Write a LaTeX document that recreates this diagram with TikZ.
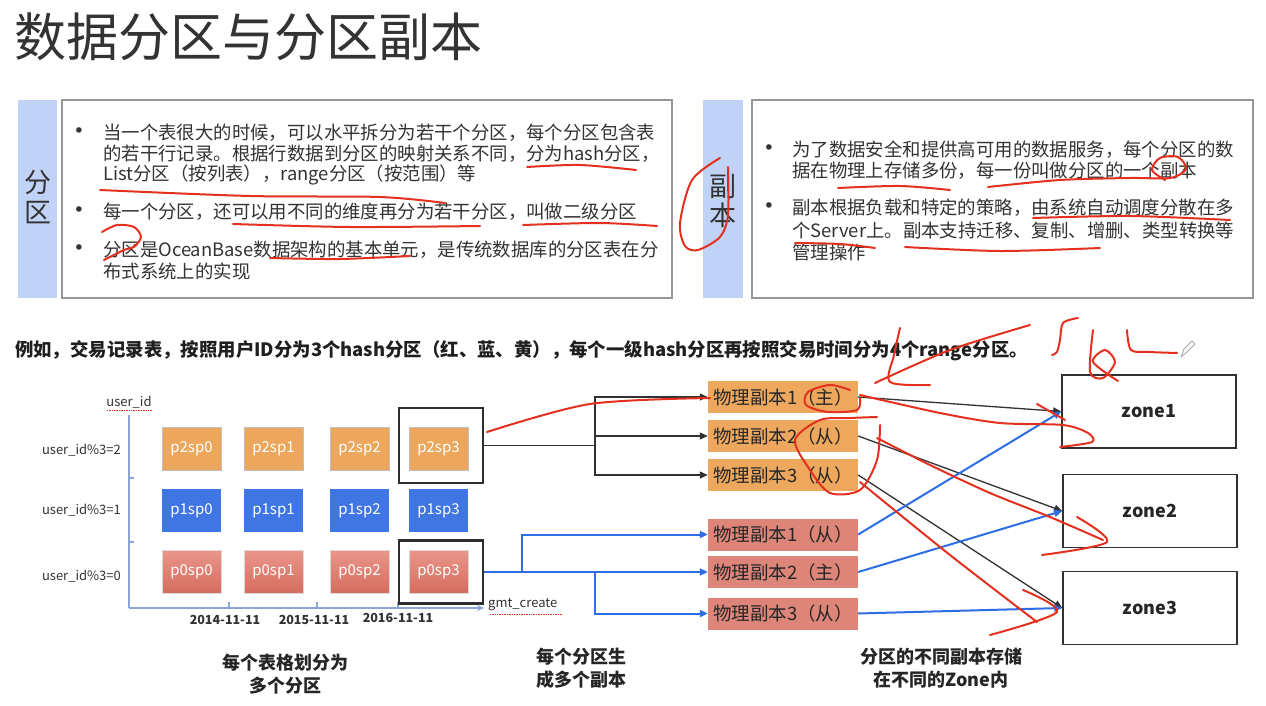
\documentclass[tikz,border=0pt]{standalone}
\usepackage{fontspec}
\setmainfont{Noto Sans CJK SC}
\newfontfamily\dejavu{DejaVu Sans}
\usetikzlibrary{arrows.meta,calc}
\definecolor{txt}{RGB}{51,51,51}
\definecolor{barblue}{RGB}{192,210,246}
\definecolor{boxgray}{RGB}{150,150,150}
\definecolor{cellorange}{RGB}{236,167,92}
\definecolor{cellblue}{RGB}{64,117,228}
\definecolor{celltop}{RGB}{234,150,138}
\definecolor{cellbot}{RGB}{214,108,94}
\definecolor{reporange}{RGB}{237,168,94}
\definecolor{repred}{RGB}{222,133,121}
\definecolor{axisblue}{RGB}{140,165,215}
\definecolor{linkblue}{RGB}{45,110,230}
\definecolor{linkdark}{RGB}{50,50,50}
\definecolor{pen}{RGB}{228,48,30}
\begin{document}
\begin{tikzpicture}[x=1pt,y=-1pt,
  ln/.style={anchor=west, inner sep=0pt, text=txt, font=\fontsize{18.4}{22}\selectfont},
  bul/.style={anchor=center, inner sep=0pt, text=txt, font=\dejavu\fontsize{19}{20}\selectfont},
  bar/.style={fill=barblue, draw=none},
  frame/.style={draw=boxgray, line width=1.1pt},
  barlbl/.style={inner sep=0pt, text=txt, font=\fontsize{27}{30}\selectfont},
  cell/.style={minimum width=59pt, minimum height=43pt, inner sep=0pt, text=white, font=\fontsize{15}{17}\selectfont},
  hl/.style={draw=linkdark!90!black, line width=2.2pt, minimum width=84pt, inner sep=0pt},
  rep/.style={minimum width=150pt, minimum height=32pt, inner sep=0pt, text=black!85, font=\fontsize{18.5}{20}\selectfont},
  zone/.style={draw=linkdark, line width=1.6pt, minimum width=174pt, minimum height=73pt, inner sep=0pt, text=black!85, font=\bfseries\fontsize{18}{20}\selectfont},
  axl/.style={inner sep=0pt, text=txt, font=\fontsize{13}{15}\selectfont},
  datel/.style={inner sep=0pt, text=txt, font=\bfseries\fontsize{12.5}{14}\selectfont},
  caption/.style={inner sep=0pt, align=center, text=black!85, font=\bfseries\fontsize{18}{23}\selectfont},
  darkarrow/.style={draw=linkdark, line width=1.3pt, -{Triangle[length=8pt,width=7pt]}},
  darkline/.style={draw=linkdark, line width=1.3pt},
  bluearrow/.style={draw=linkblue, line width=2pt, -{Triangle[length=8pt,width=7pt]}},
  blueline/.style={draw=linkblue, line width=2pt},
  axisline/.style={draw=axisblue, line width=1.8pt},
  ink/.style={draw=pen, line width=2pt, line cap=round, line join=round},
]
\useasboundingbox (0,0) rectangle (1266,706);
\fill[white] (0,0) rectangle (1266,706);

% title
\node[anchor=west, inner sep=0pt, text=txt, font=\fontsize{52}{56}\selectfont] (title) at (14,37) {数据分区与分区副本};

% left panel
\fill[bar] (18,100) rectangle (57,298);
\node[barlbl] (lb1) at (37.5,183) {分};
\node[barlbl] (lb2) at (37.5,213) {区};
\draw[frame] (62,100) rectangle (672,298);
\node[bul] (lbu1) at (79,133) {•};
\node[ln] (l1) at (103,133) {当一个表很大的时候，可以水平拆分为若干个分区，每个分区包含表};
\node[ln] (l2) at (103,154) {的若干行记录。根据行数据到分区的映射关系不同，分为hash分区，};
\node[ln] (l3) at (103,175) {List分区（按列表），range分区（按范围）等};
\node[bul] (lbu2) at (79,212) {•};
\node[ln] (l4) at (103,212) {每一个分区，还可以用不同的维度再分为若干分区，叫做二级分区};
\node[bul] (lbu3) at (79,250) {•};
\node[ln] (l5) at (103,250) {分区是OceanBase数据架构的基本单元，是传统数据库的分区表在分};
\node[ln] (l6) at (103,271) {布式系统上的实现};

% right panel
\fill[bar] (703,100) rectangle (743,298);
\node[barlbl] (rb1) at (723,187) {副};
\node[barlbl] (rb2) at (723,215) {本};
\draw[frame] (752,100) rectangle (1253,298);
\node[bul] (rbu1) at (769,150) {•};
\node[ln] (r1l) at (792,150) {为了数据安全和提供高可用的数据服务，每个分区的数};
\node[ln] (r2l) at (792,171) {据在物理上存储多份，每一份叫做分区的一个副本};
\node[bul] (rbu2) at (769,208) {•};
\node[ln] (r3l) at (792,208) {副本根据负载和特定的策略，由系统自动调度分散在多};
\node[ln] (r4l) at (792,230) {个Server上。副本支持迁移、复制、增删、类型转换等};
\node[ln] (r5l) at (792,252) {管理操作};

% example sentence
\node[anchor=west, inner sep=0pt, text=black!88, font=\bfseries\fontsize{18.4}{22}\selectfont] (ex) at (15,351) {例如，交易记录表，按照用户ID分为3个hash分区（红、蓝、黄），每个一级hash分区再按照交易时间分为4个range分区。};

% axes
\coordinate (ytop) at (129,415);
\coordinate (orig) at (129,608);
\coordinate (xend) at (484,608);
\draw[axisline] (ytop) -- (orig);
\draw[axisline, -{Stealth[length=7pt,width=6pt]}] (orig) -- (xend);
\draw[axisline, line width=1.2pt] (129,478) -- (134,478) (129,542) -- (134,542);
\draw[axisline, line width=1.2pt] (229,608) -- (229,602) (317,608) -- (317,602) (398,608) -- (398,602);
\node[axl] (uid) at (129,402) {user\_id};
\node[axl, anchor=east] (y2) at (121,450) {user\_id\%3=2};
\node[axl, anchor=east] (y1) at (121,510) {user\_id\%3=1};
\node[axl, anchor=east] (y0) at (121,576) {user\_id\%3=0};
\node[datel] (d1) at (225,620) {2014-11-11};
\node[datel] (d2) at (314,620) {2015-11-11};
\node[datel] (d3) at (398,618) {2016-11-11};
\node[axl, anchor=west] (gmt) at (488,605) {gmt\_create};
\draw[pen, line width=0.7pt, densely dotted] (107,410) -- (152,410);
\draw[pen, line width=0.7pt, densely dotted] (490,614) -- (563,614);

% cells
\foreach \c/\x in {0/191.5,1/273.5,2/359.5,3/438.5}{
  \node[cell, fill=cellorange, draw=black!25] (c2\c) at (\x,448.5) {p2sp\c};
  \node[cell, fill=cellblue] (c1\c) at (\x,510.5) {p1sp\c};
  \node[cell, top color=celltop, bottom color=cellbot, draw=black!15] (c0\c) at (\x,571.5) {p0sp\c};
}
\node[hl, minimum height=75pt] (hb2) at (441,445.5) {};
\node[hl, minimum height=63pt] (hb0) at (441,572) {};

% replicas
\node[rep, fill=reporange] (o1) at (783,397) {物理副本1（主）};
\node[rep, fill=reporange] (o2) at (783,436) {物理副本2（从）};
\node[rep, fill=reporange] (o3) at (783,475) {物理副本3（从）};
\node[rep, fill=repred] (p1) at (783,534.5) {物理副本1（从）};
\node[rep, fill=repred] (p2) at (783,572) {物理副本2（主）};
\node[rep, fill=repred] (p3) at (783,613.5) {物理副本3（从）};

% partition -> replicas
\coordinate (j1) at (595,445.5);
\draw[darkline] (hb2.east) -- (j1);
\draw[darkarrow] (j1) |- (o1.west);
\draw[darkarrow] (j1) |- (o2.west);
\draw[darkarrow] (j1) |- (o3.west);
\coordinate (b1) at (522,572);
\coordinate (b2) at (595,572);
\draw[blueline] (hb0.east) -- (b2);
\draw[bluearrow] (b1) |- (p1.west);
\draw[bluearrow] (b2) -- (p2.west);
\draw[bluearrow] (b2) |- (p3.west);

% zones
\node[zone] (z1) at (1149,411.5) {zone1};
\node[zone] (z2) at (1150,511) {zone2};
\node[zone] (z3) at (1150,608) {zone3};
\draw[darkarrow] (o1.east) -- (z1.west);
\draw[darkarrow] (o2.east) -- (z2.west);
\draw[darkarrow] (o3.east) -- (z3.west);
\draw[bluearrow] (p1.east) -- (z1.west);
\draw[bluearrow] (p2.east) -- (z2.west);
\draw[bluearrow] (p3.east) -- (z3.west);

% captions
\node[caption] (cap1) at (285,674) {每个表格划分为\\多个分区};
\node[caption] (cap2) at (581,668) {每个分区生\\成多个副本};
\node[caption] (cap3) at (941,668) {分区的不同副本存储\\在不同的Zone内};

% pencil cursor
\draw[gray!70, line width=0.8pt, line join=round] (1181,357) -- (1184,349) -- (1192,341) -- (1195,344) -- (1187,352) -- cycle;

% hand-drawn red annotations
\draw[ink] plot[smooth] coordinates {(527,167) (580,165) (636,170)};
\draw[ink] plot[smooth] coordinates {(100,190) (250,196) (380,197) (445,203)};
\draw[ink] plot[smooth] coordinates {(233,224) (350,227) (480,226)};
\draw[ink] plot[smooth] coordinates {(523,225) (600,223) (657,226)};
\draw[ink] plot[smooth] coordinates {(102,232) (117,225) (134,227) (141,237) (134,247) (124,250) (104,260)};
\draw[ink] plot[smooth] coordinates {(270,258) (340,259) (410,256)};
\draw[ink] plot[smooth] coordinates {(720,158) (692,180) (680,223) (685,246) (698,250) (720,237) (728,215) (728,167)};
\draw[ink] plot[smooth] coordinates {(838,188) (900,186) (950,190)};
\draw[ink] plot[smooth] coordinates {(988,187) (1060,180) (1130,178) (1170,178) (1186,169) (1178,157) (1160,158) (1152,170) (1165,180)};
\draw[ink] plot[smooth] coordinates {(1033,218) (1130,216) (1230,220)};
\draw[ink] plot[smooth] coordinates {(795,243) (840,244) (875,248)};
\draw[ink] plot[smooth] coordinates {(905,247) (1000,251) (1100,248)};
\draw[ink] plot[smooth] coordinates {(900,328) (894,355) (890,382) (930,385)};
\draw[ink] plot[smooth] coordinates {(875,383) (950,350) (1030,325)};
\draw[ink] plot[smooth] coordinates {(1078,318) (1063,323) (1060,340) (1057,352) (1052,355)};
\draw[ink] plot[smooth] coordinates {(1093,330) (1090,372) (1103,378) (1115,362) (1105,350) (1093,362) (1118,381)};
\draw[ink] plot[smooth] coordinates {(1127,330) (1131,350) (1150,352) (1177,353)};
\draw[ink] plot[smooth] coordinates {(487,432) (590,404) (710,398)};
\draw[ink] plot[smooth] coordinates {(850,390) (830,385) (808,392) (806,405) (828,412) (857,410) (860,398)};
\draw[ink] plot[smooth] coordinates {(877,417) (850,418) (820,420) (795,440) (810,470) (830,493) (860,490) (877,460) (880,425)};
\draw[ink] plot[smooth] coordinates {(860,395) (940,413) (1000,423) (1063,425) (1088,433) (1092,442) (1060,447)};
\draw[ink] plot[smooth] coordinates {(1037,404) (1065,420)};
\draw[ink] plot[smooth] coordinates {(877,438) (930,465) (990,493) (1050,517) (1103,540)};
\draw[ink] plot[smooth] coordinates {(1077,517) (1107,542) (1042,555)};
\draw[ink] plot[smooth] coordinates {(860,482) (950,555) (1037,622)};
\draw[ink] plot[smooth] coordinates {(1023,590) (1057,612) (990,635)};
\end{tikzpicture}
\end{document}
